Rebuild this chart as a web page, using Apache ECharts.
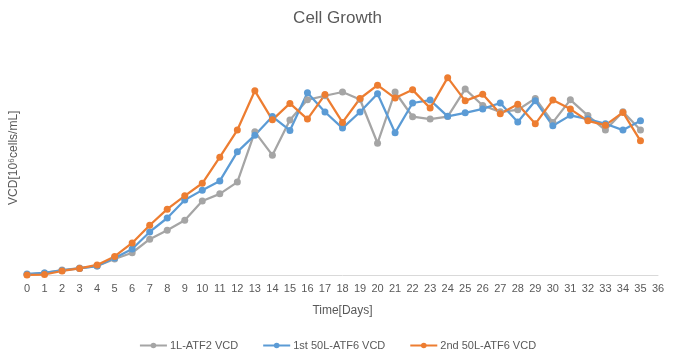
<!DOCTYPE html>
<html><head><meta charset="utf-8">
<script src="https://cdn.jsdelivr.net/npm/echarts@6/dist/echarts.min.js"></script>
<style>html,body{margin:0;padding:0;background:#fff}#c{width:675px;height:359px}</style>
</head><body><div id="c"></div>
<script>
const days = [0,1,2,3,4,5,6,7,8,9,10,11,12,13,14,15,16,17,18,19,20,21,22,23,24,25,26,27,28,29,30,31,32,33,34,35];
const seriesNames = ['1L-ATF2 VCD','1st 50L-ATF6 VCD','2nd 50L-ATF6 VCD'];
const atf2_1L = [0.5,1.3,2.8,3.8,4.8,8.4,11.6,18.5,23.1,28.2,38.0,41.6,47.6,73.2,61.3,79.2,89.5,91.6,93.5,89.7,67.4,93.5,80.9,79.7,81.0,95.0,86.6,83.4,84.4,90.2,78.0,89.5,81.5,74.1,83.4,74.1];
const atf6_50L_1st = [0.8,1.3,2.6,3.6,4.8,8.9,13.5,22.2,29.3,38.5,43.5,48.2,63.0,71.5,81.0,73.9,93.1,83.3,75.1,83.3,92.6,72.7,87.9,89.4,81.1,82.9,84.9,87.9,78.2,89.0,76.3,81.6,79.7,77.3,74.1,78.8];
const atf6_50L_2nd = [0.3,0.5,2.3,3.6,5.4,9.7,16.6,25.6,33.8,40.6,47.0,60.3,74.1,94.1,79.3,87.7,79.7,92.2,78.0,90.2,97.0,90.4,94.6,85.3,100.8,89.0,92.4,82.4,87.3,77.3,89.4,84.8,78.8,76.6,83.1,68.6];
const colors = ['#A5A5A5','#5B9BD5','#ED7D31'];
const allData = [atf2_1L, atf6_50L_1st, atf6_50L_2nd];

const font = '"Liberation Sans", Arial, sans-serif';
const chart = echarts.init(document.getElementById('c'), null, {renderer:'canvas'});
chart.setOption({
  animation:false,
  title:{text:'Cell Growth', left:'center', top:5, textStyle:{fontFamily:font, fontSize:17, fontWeight:'normal', color:'#595959'}},
  grid:{left:25, right:17, top:40, bottom:83.5, containLabel:false},
  legend:{bottom:3, left:'center', itemWidth:27, itemHeight:7, itemGap:24,
    textStyle:{fontFamily:font, fontSize:11, color:'#595959', padding:[0,0,0,-2]}, data:seriesNames},
  xAxis:{type:'value', min:0, max:36, interval:1,
    name:'Time[Days]', nameLocation:'middle', nameGap:29,
    nameTextStyle:{fontFamily:font, fontSize:12, color:'#595959'},
    axisLine:{show:true, lineStyle:{color:'#D9D9D9', width:1}},
    axisTick:{show:false}, splitLine:{show:false},
    axisLabel:{fontFamily:font, fontSize:11, color:'#595959', margin:8}},
  yAxis:{type:'value', min:0, max:120,
    name:'VCD[10\u2076cells/mL]', nameLocation:'middle', nameGap:7, nameRotate:90,
    nameTextStyle:{fontFamily:font, fontSize:12, color:'#595959'},
    axisLine:{show:false}, axisTick:{show:false}, axisLabel:{show:false}, splitLine:{show:false}},
  series: seriesNames.map((n,i)=>({
    name:n, type:'line', data: days.map((d,j)=>[d, allData[i][j]]),
    symbol:'circle', symbolSize:7,
    lineStyle:{color:colors[i], width:2.25},
    itemStyle:{color:colors[i]}
  }))
});
</script></body></html>
